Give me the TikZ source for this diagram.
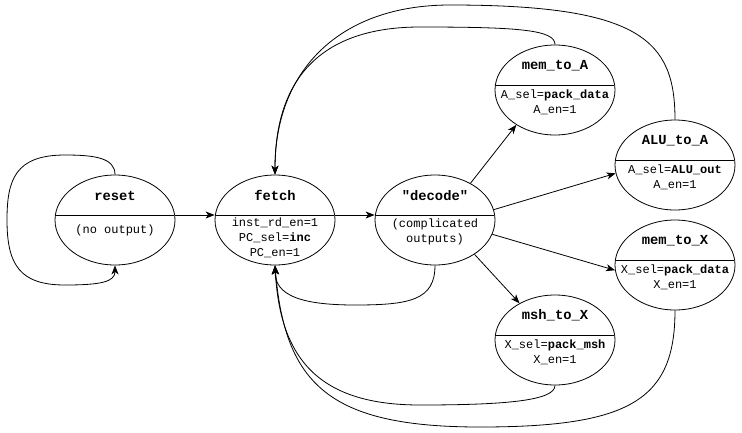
\documentclass[tikz,border=0pt]{standalone}
\usepackage{fontspec}
\setmonofont{Liberation Mono}
\usetikzlibrary{shapes.geometric, arrows.meta}

\begin{document}
\begin{tikzpicture}[x=1pt, y=-1pt, >={Stealth[length=9pt, width=7pt, inset=2.5pt]},
        main/.style = {draw, thick, ellipse, minimum width=120pt, minimum height=90pt, inner sep=0pt,
            path picture={\draw[thick] ([yshift=5pt]path picture bounding box.west) -- ([yshift=5pt]path picture bounding box.east);}},
        title/.style = {font=\ttfamily\bfseries\fontsize{13.8}{16}\selectfont, inner sep=0pt},
        body/.style = {font=\ttfamily\fontsize{12}{15}\selectfont, align=center, inner sep=0pt} ]
        \useasboundingbox (0, 0) rectangle (742, 432);

        \node at (115, 220) [main] (reset) {};
        \node at (115, 195.5) [title] (reset-t) {reset};
        \node at (115, 230) [body] (reset-b) {(no output)};

        \node at (275, 220) [main] (fetch) {};
        \node at (275, 195.5) [title] (fetch-t) {fetch};
        \node at (275, 238) [body] (fetch-b) {inst\_rd\_en=1\\PC\_sel=\textbf{inc}\\PC\_en=1};

        \node at (435, 220) [main] (decode) {};
        \node at (435, 195.5) [title] (decode-t) {"decode"};
        \node at (435, 232) [body] (decode-b) {(complicated\\outputs)};

        \node at (555, 90) [main] (memA) {};
        \node at (555, 65.5) [title] (memA-t) {mem\_to\_A};
        \node at (555, 102.5) [body] (memA-b) {A\_sel=\textbf{pack\_data}\\A\_en=1};

        \node at (675, 165) [main] (aluA) {};
        \node at (675, 140.5) [title] (aluA-t) {ALU\_to\_A};
        \node at (675, 177) [body] (aluA-b) {A\_sel=\textbf{ALU\_out}\\A\_en=1};

        \node at (675, 265) [main] (memX) {};
        \node at (675, 240.5) [title] (memX-t) {mem\_to\_X};
        \node at (675, 277) [body] (memX-b) {X\_sel=\textbf{pack\_data}\\X\_en=1};

        \node at (555, 340) [main] (mshX) {};
        \node at (555, 315.5) [title] (mshX-t) {msh\_to\_X};
        \node at (555, 352) [body] (mshX-b) {X\_sel=\textbf{pack\_msh}\\X\_en=1};

        \path[->, thick]
        ([yshift=5pt]reset.east) edge ([yshift=5pt]fetch.west)
        ([yshift=5pt]fetch.east) edge ([yshift=5pt]decode.west)
        (decode.46) edge (memA.222)
        (decode.10) edge (aluA.188)
        (decode.346) edge (memX.185)
        (decode.319) edge (mshX.134);

        \draw[->, thick] (reset.north) .. controls (115, 158) and (95, 155) .. (65, 155)
            .. controls (15, 155) and (7, 180) .. (7, 220)
            .. controls (7, 265) and (20, 285) .. (65, 285)
            .. controls (100, 285) and (115, 282) .. (reset.south);

        \draw[->, thick] (decode.south) .. controls (435, 300) and (410, 305) .. (355, 305)
            .. controls (300, 305) and (275, 295) .. (fetch.south);
        \draw[->, thick] (mshX.south) .. controls (555, 400) and (510, 405) .. (420, 405)
            .. controls (320, 405) and (280, 360) .. (fetch.south);
        \draw[->, thick] (memX.south) .. controls (675, 400) and (630, 427) .. (480, 427)
            .. controls (330, 427) and (285, 385) .. (fetch.south);

        \draw[->, thick] (memA.north) .. controls (555, 30) and (520, 27) .. (420, 27)
            .. controls (330, 27) and (275, 70) .. (fetch.north);
        \draw[->, thick] (aluA.north) .. controls (675, 40) and (640, 5) .. (450, 5)
            .. controls (340, 5) and (275, 70) .. (fetch.north);

    \end{tikzpicture}
\end{document}
